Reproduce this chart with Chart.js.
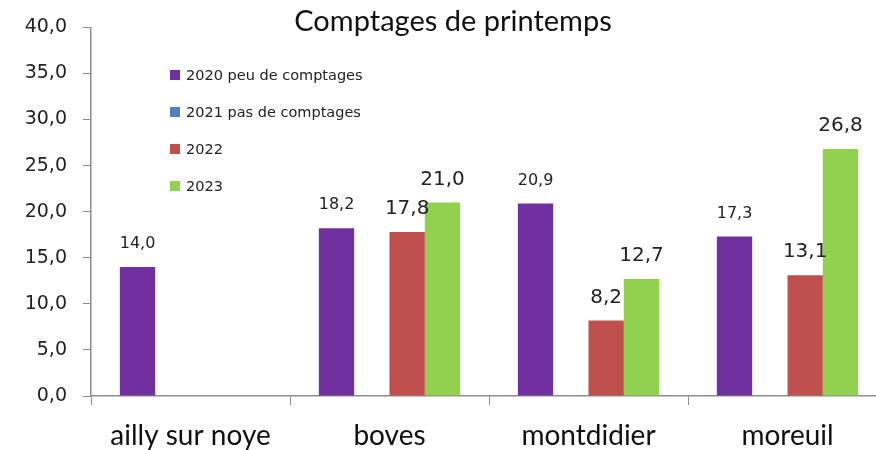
<!DOCTYPE html>
<html>
<head>
<meta charset="utf-8">
<script src="https://cdn.jsdelivr.net/npm/chart.js@4.4.1/dist/chart.umd.min.js"></script>
<style>
  body { margin: 0; background: #fff; overflow: hidden; }
</style>
</head>
<body>
<canvas id="graficoComptages" width="900" height="450"></canvas>
<script>
// Comptages de printemps
const communes = ['ailly sur noye', 'boves', 'montdidier', 'moreuil'];

const series = [
    '2020 peu de comptages',
    '2021 pas de comptages',
    '2022',
    '2023'
];

const v2020 = [14.0, 18.2, 20.9, 17.3];
const v2021 = [null, null, null, null];
const v2022 = [null, 17.8, 8.2, 13.1];
const v2023 = [null, 21.0, 12.7, 26.8];

const yTicks = [0, 5, 10, 15, 20, 25, 30, 35, 40];

const couleurs = ['#7030A0', '#4F81BD', '#C0504D', '#92D050'];

function virgule(v) {
    return v.toFixed(1).replace('.', ',');
}

// titre, legende et etiquettes dessines a la main
const dessins = {
    id: 'dessins',
    afterDatasetsDraw(chart) {
        const ctx = chart.ctx;
        ctx.save();

        // etiquettes de valeurs
        chart.data.datasets.forEach((ds, i) => {
            const meta = chart.getDatasetMeta(i);
            ctx.font = i === 0 ? '16px "DejaVu Sans"' : '20px "DejaVu Sans"';
            ctx.fillStyle = '#222';
            ctx.textAlign = 'center';
            ctx.textBaseline = 'middle';
            meta.data.forEach((bar, j) => {
                const v = ds.data[j];
                if (v === null) return;
                ctx.fillText(virgule(v), bar.x, bar.y - 23);
            });
        });

        // titre
        ctx.font = '29px Lato';
        ctx.fillStyle = '#111';
        ctx.textAlign = 'center';
        ctx.textBaseline = 'middle';
        ctx.fillText('Comptages de printemps', 453, 22);

        // legende
        ctx.font = '14.5px "DejaVu Sans"';
        ctx.textAlign = 'left';
        chart.data.datasets.forEach((ds, i) => {
            const y = 75 + i * 37;
            ctx.fillStyle = ds.backgroundColor;
            ctx.fillRect(170, y - 5, 10, 10);
            ctx.fillStyle = '#222';
            ctx.fillText(ds.label, 186, y + 1);
        });

        ctx.restore();
    }
};

let barras = document.getElementById('graficoComptages').getContext('2d');

var chart = new Chart(barras, {
    type: 'bar',
    data: {
        labels: communes,
        datasets: [
            { label: series[0], data: v2020, backgroundColor: couleurs[0] },
            { label: series[1], data: v2021, backgroundColor: couleurs[1] },
            { label: series[2], data: v2022, backgroundColor: couleurs[2] },
            { label: series[3], data: v2023, backgroundColor: couleurs[3] }
        ]
    },
    options: {
        responsive: false,
        animation: false,
        categoryPercentage: 0.71,
        barPercentage: 1,
        layout: { padding: { top: 27, right: 13, bottom: 0, left: 0 } },
        plugins: {
            legend: { display: false },
            title: { display: false },
            tooltip: { enabled: false }
        },
        scales: {
            x: {
                offset: true,
                grid: {
                    offset: true,
                    drawOnChartArea: false,
                    drawTicks: true,
                    tickLength: 9,
                    color: '#8c8c8c'
                },
                border: { color: '#8c8c8c', width: 1.5 },
                ticks: {
                    color: '#111',
                    font: { family: 'Lato', size: 28 },
                    padding: 14
                },
                afterFit(scale) { scale.height = 54; }
            },
            y: {
                min: 0,
                max: 40,
                afterBuildTicks(scale) {
                    scale.ticks = yTicks.map(v => ({ value: v }));
                },
                grid: {
                    drawOnChartArea: false,
                    drawTicks: true,
                    tickLength: 8,
                    color: '#8c8c8c'
                },
                border: { color: '#8c8c8c', width: 1.5 },
                ticks: {
                    color: '#222',
                    font: { family: 'DejaVu Sans', size: 19 },
                    padding: 16,
                    callback: (v) => virgule(v)
                },
                afterFit(scale) { scale.width = 91; }
            }
        }
    },
    plugins: [dessins]
});
</script>
</body>
</html>
